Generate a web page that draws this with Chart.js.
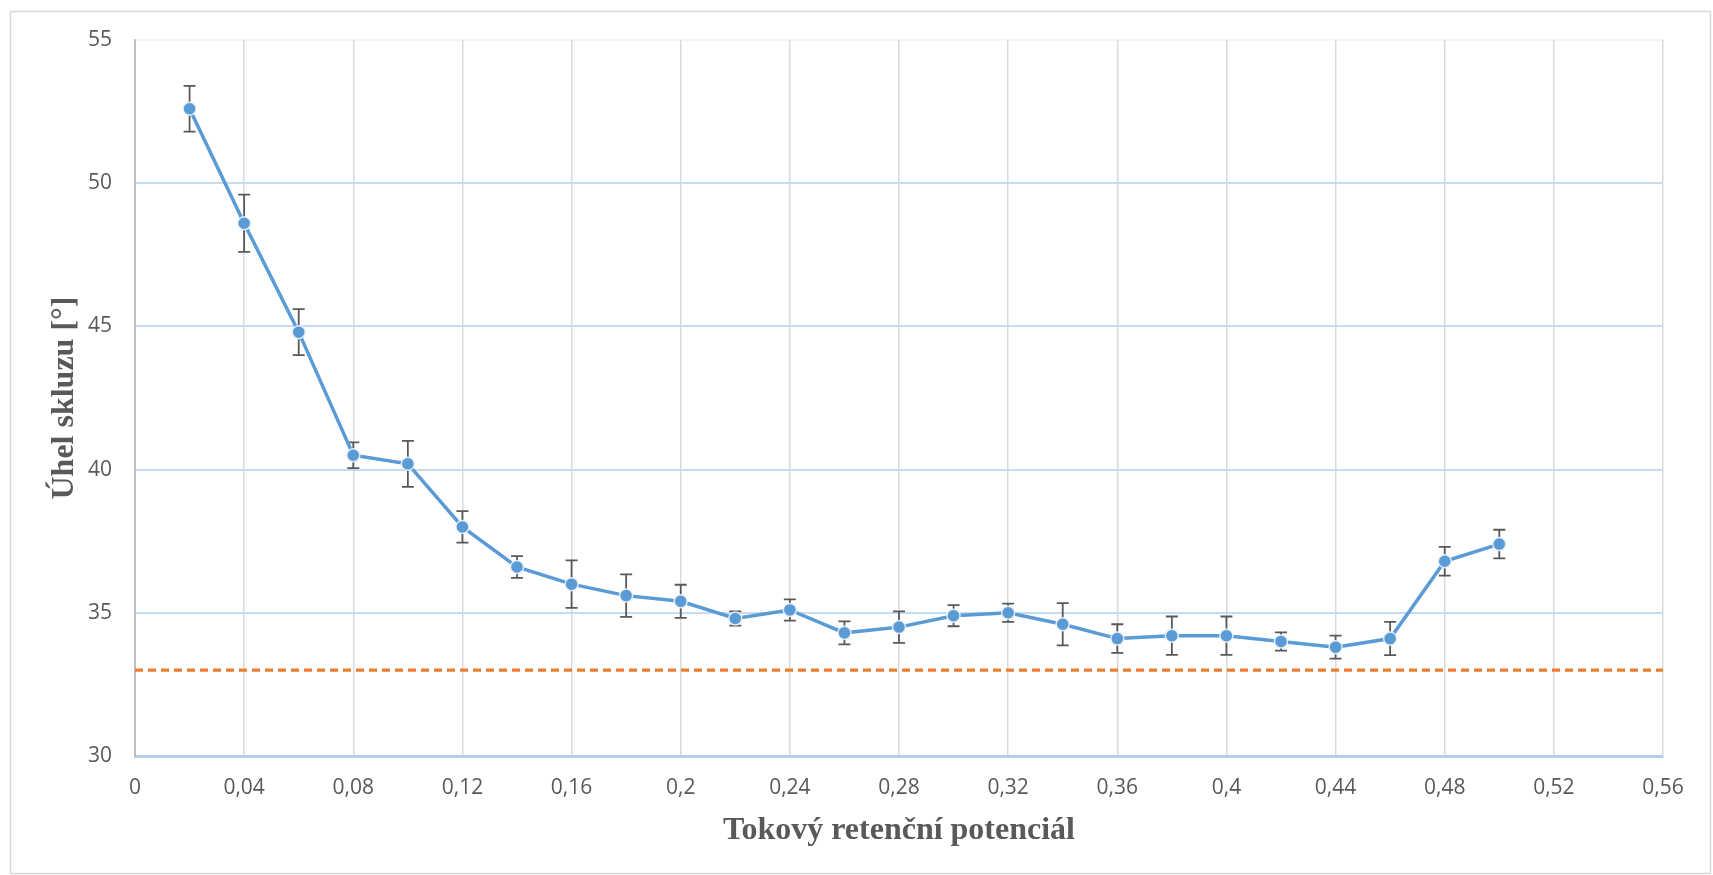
<!DOCTYPE html>
<html>
<head>
<meta charset="utf-8">
<script src="https://cdn.jsdelivr.net/npm/chart.js@4.4.1/dist/chart.umd.min.js"></script>
<style>
  html, body { margin: 0; padding: 0; background: #ffffff; }
  canvas { display: block; }
</style>
</head>
<body>
<canvas id="chart" width="1713" height="875"></canvas>
<script>
// Flow retention potential (x) vs. slip angle (y) with standard deviations
const potential = [0.02, 0.04, 0.06, 0.08, 0.10, 0.12, 0.14, 0.16, 0.18, 0.20, 0.22, 0.24, 0.26,
                   0.28, 0.30, 0.32, 0.34, 0.36, 0.38, 0.40, 0.42, 0.44, 0.46, 0.48, 0.50];
const slipAngle = [52.6, 48.6, 44.8, 40.5, 40.2, 38.0, 36.6, 36.0, 35.6, 35.4, 34.8, 35.1, 34.3,
                   34.5, 34.9, 35.0, 34.6, 34.1, 34.2, 34.2, 34.0, 33.8, 34.1, 36.8, 37.4];
const slipAngleErr = [0.8, 1.0, 0.8, 0.45, 0.8, 0.55, 0.38, 0.83, 0.74, 0.58, 0.25, 0.37, 0.4,
                      0.55, 0.37, 0.32, 0.74, 0.5, 0.67, 0.67, 0.32, 0.4, 0.58, 0.5, 0.5];

// Horizontal reference level
const referenceAngle = 33;
const referenceSpan = [0, 0.56];

// Axis ticks
const xTickValues = [0, 0.04, 0.08, 0.12, 0.16, 0.2, 0.24, 0.28, 0.32, 0.36, 0.4, 0.44, 0.48, 0.52, 0.56];
const xTickLabels = ['0', '0,04', '0,08', '0,12', '0,16', '0,2', '0,24', '0,28', '0,32', '0,36', '0,4', '0,44', '0,48', '0,52', '0,56'];
const yTickValues = [30, 35, 40, 45, 50, 55];

const xTitle = 'Tokový retenční potenciál';
const yTitle = 'Úhel skluzu [°]';

// White background with a thin light frame around the whole chart
const framePlugin = {
  id: 'frame',
  beforeDraw(chart) {
    const ctx = chart.ctx;
    ctx.save();
    ctx.fillStyle = '#ffffff';
    ctx.fillRect(0, 0, chart.width, chart.height);
    ctx.strokeStyle = '#d9d9d9';
    ctx.lineWidth = 1.5;
    ctx.strokeRect(10.5, 11.5, 1700, 862);
    ctx.restore();
  }
};

// Vertical error bars with caps, positioned through the chart scales
const errorBarPlugin = {
  id: 'errorBars',
  beforeDatasetsDraw(chart) {
    const xs = chart.scales.x, ys = chart.scales.y;
    const ctx = chart.ctx;
    ctx.save();
    ctx.strokeStyle = '#595959';
    ctx.lineWidth = 1.8;
    const cap = 6;
    potential.forEach((xv, i) => {
      const px = xs.getPixelForValue(xv);
      const top = ys.getPixelForValue(slipAngle[i] + slipAngleErr[i]);
      const bot = ys.getPixelForValue(slipAngle[i] - slipAngleErr[i]);
      ctx.beginPath();
      ctx.moveTo(px, top); ctx.lineTo(px, bot);
      ctx.moveTo(px - cap, top); ctx.lineTo(px + cap, top);
      ctx.moveTo(px - cap, bot); ctx.lineTo(px + cap, bot);
      ctx.stroke();
    });
    ctx.restore();
  }
};

const tickFont = { family: '"Open Sans", sans-serif', size: 21 };
const titleFont = { family: '"Liberation Serif", "Times New Roman", serif', size: 32, weight: 'bold' };

new Chart(document.getElementById('chart'), {
  type: 'line',
  data: {
    datasets: [
      {
        data: potential.map((x, i) => ({ x, y: slipAngle[i] })),
        borderColor: '#5b9bd5',
        borderWidth: 3.5,
        backgroundColor: '#5b9bd5',
        pointBackgroundColor: '#5b9bd5',
        pointBorderColor: 'rgba(235,243,251,0.9)',
        pointBorderWidth: 1.5,
        pointRadius: 6.5,
        tension: 0,
        fill: false
      },
      {
        data: referenceSpan.map(x => ({ x, y: referenceAngle })),
        borderColor: '#ed7d31',
        borderWidth: 3.2,
        borderDash: [8, 5],
        pointRadius: 0,
        fill: false
      }
    ]
  },
  options: {
    responsive: false,
    animation: false,
    devicePixelRatio: 1,
    layout: { padding: { left: 10, top: 40, right: 50, bottom: 0 } },
    plugins: {
      legend: { display: false },
      tooltip: { enabled: false }
    },
    scales: {
      x: {
        type: 'linear',
        min: 0,
        max: 0.56,
        afterBuildTicks: s => { s.ticks = xTickValues.map(v => ({ value: v })); },
        afterFit: s => { s.height = 119; },
        ticks: {
          callback: (v, i) => xTickLabels[i],
          color: '#595959',
          font: tickFont,
          padding: 19,
          maxRotation: 0,
          autoSkip: false
        },
        grid: { color: '#d9d9d9', lineWidth: 1.5, drawTicks: false },
        border: { color: '#b4cfea', width: 3 },
        title: {
          display: true,
          text: xTitle,
          color: '#595959',
          font: titleFont,
          padding: { top: 0, bottom: 25 }
        }
      },
      y: {
        min: 30,
        max: 55,
        afterBuildTicks: s => { s.ticks = yTickValues.map(v => ({ value: v })); },
        afterFit: s => { s.width = 125; },
        ticks: {
          color: '#595959',
          font: tickFont,
          padding: 23
        },
        grid: {
          color: c => (c.tick && c.tick.value === 55) ? 'rgba(222,235,247,0.5)' : '#c5dcf0',
          lineWidth: 2,
          drawTicks: false
        },
        border: { color: '#bfbfbf', width: 2 },
        title: {
          display: true,
          text: yTitle,
          color: '#595959',
          font: titleFont,
          padding: { top: 36, bottom: 0 }
        }
      }
    }
  },
  plugins: [framePlugin, errorBarPlugin]
});
</script>
</body>
</html>
